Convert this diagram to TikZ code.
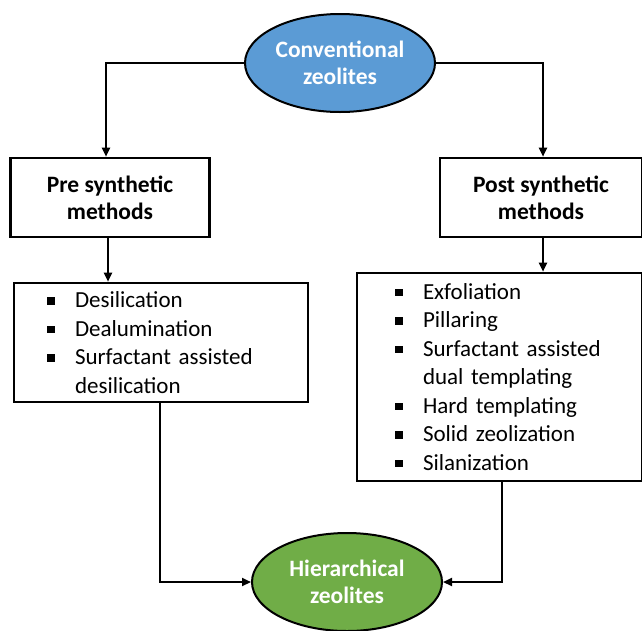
\documentclass[tikz,border=0pt]{standalone}
\usepackage{fontspec}
\setmainfont{Carlito}
\usetikzlibrary{arrows.meta,shapes.geometric}
\definecolor{oblue}{HTML}{5B9BD5}
\definecolor{ogreen}{HTML}{70AD47}
\newcommand{\blt}{\makebox[28pt][l]{\rule[3pt]{7.5pt}{7.5pt}}}
\newcommand{\bltsp}{\hspace*{28pt}}
\tikzset{
  oval/.style={ellipse, draw=black, line width=2pt, minimum width=190pt, minimum height=98pt, inner sep=0pt, align=center, text=white, font=\fontsize{23.5}{27}\selectfont\bfseries},
  headbox/.style={rectangle, draw=black, line width=2.6pt, inner sep=0pt, align=center, font=\fontsize{23.5}{27}\selectfont\bfseries},
  listbox/.style={rectangle, draw=black, line width=2.6pt, inner ysep=0pt, align=left, font=\fontsize{23}{28.5}\selectfont},
  conn/.style={draw=black, line width=2pt, -{Triangle[width=8pt,length=9pt]}},
}
\begin{document}
\begin{tikzpicture}[x=1pt,y=-1pt]
\useasboundingbox (0,0) rectangle (642,630);
\node[oval, fill=oblue] (conv) at (340,63) {Conventional\\zeolites};
\node[oval, fill=ogreen] (hier) at (347,582) {Hierarchical\\zeolites};
\node[headbox, minimum width=199pt, minimum height=79pt] (pre) at (110,197.5) {Pre synthetic\\methods};
\node[headbox, minimum width=202pt, minimum height=79pt] (post) at (541,197.5) {Post synthetic\\methods};
\node[listbox, minimum width=294pt, minimum height=119pt, text width=228pt, inner xsep=33pt] (prel) at (161,342.5)
 {\blt Desilication\\ \blt Dealumination\\ \blt Surfactant assisted\\ \bltsp desilication};
\node[listbox, minimum width=285pt, minimum height=208pt, text width=209pt, inner xsep=38pt] (postl) at (499.5,377)
 {\blt Exfoliation\\ \blt Pillaring\\ \blt Surfactant assisted\\ \bltsp dual templating\\ \blt Hard templating\\ \blt Solid zeolization\\ \blt Silanization};
\draw[conn] (conv.west) -| (pre.north -| 106,0);
\draw[conn] (conv.east) -| (post.north -| 543,0);
\draw[conn] (pre.south -| 108,0) -- (prel.north -| 108,0);
\draw[conn] (post.south -| 543,0) -- (postl.north -| 543,0);
\draw[conn] (prel.south -| 160,0) |- (hier.west);
\draw[conn] (postl.south -| 502,0) |- (hier.east);
\end{tikzpicture}
\end{document}
